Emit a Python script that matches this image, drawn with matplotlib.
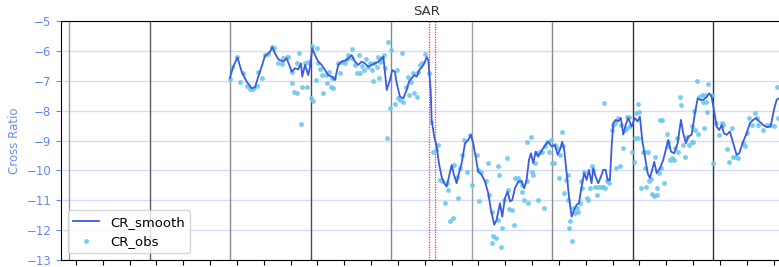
import matplotlib
matplotlib.use("Agg")
import matplotlib.pyplot as plt
import numpy as np

# x axis: months counted from the first x tick
smooth_month = [22.96, 23.40, 24.07, 24.70, 25.45, 26.19, 26.68, 27.18, 27.68, 28.17,
                28.92, 29.26, 29.66, 30.16, 30.90, 31.41, 31.90, 32.15, 32.65, 33.14,
                33.54, 33.73, 34.14, 34.63, 34.88, 35.23, 35.63, 36.12, 36.63, 37.12,
                37.61, 38.12, 38.61, 39.10, 39.61, 40.35, 41.10, 41.59, 42.08, 42.59,
                43.08, 43.57, 44.08, 44.57, 45.06, 45.57, 45.81, 46.06, 46.32, 46.81,
                47.15, 47.55, 47.81, 48.30, 48.79, 49.30, 49.64, 50.04, 50.43, 50.79,
                51.18, 51.62, 51.92, 52.28, 52.52, 52.88, 53.02, 53.41, 53.77, 54.11,
                54.51, 54.90, 55.26, 55.60, 56.01, 56.35, 56.75, 57.09, 57.50, 57.99,
                58.48, 58.88, 59.22, 59.58, 59.97, 60.48, 60.97, 61.46, 61.86, 62.36,
                62.71, 63.21, 63.55, 63.95, 64.35, 64.70, 65.04, 65.44, 65.93, 66.44,
                66.83, 67.18, 67.53, 67.83, 68.17, 68.53, 68.91, 69.32, 69.66, 70.17,
                70.41, 70.91, 71.40, 71.81, 72.15, 72.49, 72.79, 73.15, 73.49, 73.89,
                74.28, 74.64, 74.98, 75.38, 75.77, 76.13, 76.47, 76.87, 77.11, 77.47,
                77.86, 78.26, 78.61, 78.96, 79.26, 79.60, 79.86, 80.10, 80.45, 80.84,
                81.24, 81.59, 81.94, 82.33, 82.84, 83.33, 83.73, 84.07, 84.42, 84.82,
                85.22, 85.57, 85.91, 86.21, 86.57, 87.06, 87.55, 88.06, 88.30, 88.70,
                89.19, 89.70, 90.19, 90.54, 90.93, 91.28, 91.78, 92.28, 92.68, 93.02,
                93.51, 94.02, 94.40, 94.76, 95.11, 95.51, 95.90, 96.26, 96.60, 97.00,
                97.49, 97.98, 98.49, 98.88, 99.38, 99.98, 100.47, 100.96, 101.37, 101.86,
                102.46, 102.96, 103.56, 104.05, 104.45, 104.80, 105.30]
cr_smooth = [-6.90, -6.55, -6.22, -6.70, -7.03, -7.25, -7.22, -6.86, -6.53, -6.17,
             -6.03, -5.88, -6.08, -6.28, -6.36, -6.25, -6.53, -6.70, -6.58, -6.62,
             -6.42, -6.86, -6.47, -6.81, -6.53, -5.91, -6.14, -6.36, -6.47, -6.64,
             -6.81, -6.86, -6.97, -6.47, -6.36, -6.30, -6.14, -6.36, -6.47, -6.36,
             -6.42, -6.53, -6.47, -6.42, -6.36, -6.25, -6.19, -6.70, -7.31, -6.97,
             -6.64, -6.70, -7.08, -7.53, -7.59, -7.31, -7.03, -6.92, -6.81, -6.86,
             -6.64, -6.53, -6.42, -6.21, -6.30, -7.31, -8.31, -8.87, -9.20, -9.76,
             -10.21, -10.43, -10.54, -10.21, -9.82, -10.15, -10.43, -10.09, -9.76, -9.10,
             -8.98, -8.81, -9.09, -9.54, -10.04, -10.15, -10.37, -10.76, -11.32, -11.82,
             -11.65, -11.10, -11.55, -10.93, -10.71, -11.04, -10.99, -10.60, -10.37, -10.37,
             -10.60, -10.32, -9.65, -9.43, -9.76, -9.37, -9.54, -9.37, -9.26, -9.09,
             -9.04, -9.20, -9.15, -9.48, -9.31, -9.04, -9.31, -10.09, -10.87, -11.55,
             -11.32, -11.15, -11.10, -10.54, -10.09, -10.32, -9.98, -10.43, -9.93, -10.21,
             -10.43, -10.21, -9.98, -9.98, -10.32, -10.32, -9.20, -8.42, -8.31, -8.36,
             -8.25, -8.80, -8.48, -8.25, -8.53, -8.25, -8.36, -8.20, -8.98, -9.54,
             -10.09, -10.26, -9.98, -9.71, -10.09, -9.93, -9.65, -9.20, -8.98, -9.37,
             -9.43, -9.09, -8.31, -8.76, -9.09, -8.87, -8.81, -8.09, -7.59, -7.64,
             -7.64, -7.55, -7.42, -7.53, -7.98, -8.53, -8.65, -8.48, -8.76, -8.81,
             -8.70, -9.09, -9.48, -9.43, -9.09, -8.76, -8.42, -8.31, -8.25, -8.36,
             -8.48, -8.55, -8.53, -7.98, -7.64, -7.59, -7.50]

obs_month = [22.91, 23.30, 24.05, 24.45, 24.94, 25.45, 25.94, 26.43, 26.94, 27.18,
             27.68, 28.17, 28.67, 29.17, 29.56, 30.07, 30.75, 30.90, 31.41, 31.65,
             32.15, 32.24, 32.54, 32.90, 33.02, 33.24, 33.73, 33.54, 34.14, 34.39,
             34.54, 35.03, 35.37, 35.23, 35.88, 35.73, 36.12, 36.37, 36.72, 36.86,
             37.22, 37.37, 37.71, 38.01, 38.36, 38.16, 38.50, 39.10, 39.35, 39.61,
             40.10, 40.35, 40.59, 41.10, 41.19, 41.59, 41.84, 42.23, 42.34, 42.68,
             42.98, 43.19, 43.48, 43.83, 44.08, 44.32, 44.47, 44.83, 45.06, 45.32,
             45.17, 45.57, 45.91, 46.06, 46.32, 46.55, 46.96, 46.81, 47.55, 47.81,
             47.96, 48.30, 48.55, 48.79, 49.15, 49.45, 49.64, 49.94, 50.28, 50.43,
             50.79, 50.94, 51.28, 51.62, 52.03, 52.62, 52.92, 53.26, 53.62, 53.92,
             54.26, 54.60, 55.01, 55.26, 55.50, 55.75, 56.24, 56.35, 56.75, 56.90,
             57.24, 57.58, 57.88, 58.24, 58.73, 59.08, 59.73, 59.97, 60.37, 60.07,
             61.07, 61.37, 61.56, 61.97, 62.21, 62.56, 62.06, 62.95, 63.05, 62.86,
             63.35, 63.55, 63.85, 64.20, 64.35, 64.55, 64.95, 65.34, 65.44, 65.93,
             66.19, 66.53, 66.44, 66.83, 67.18, 67.42, 67.27, 67.78, 67.93, 68.17,
             68.42, 68.53, 68.82, 69.17, 69.42, 69.81, 69.90, 70.17, 70.51, 70.81,
             71.00, 71.30, 71.40, 71.66, 72.15, 72.40, 72.64, 71.99, 73.00, 73.30,
             72.79, 73.39, 73.64, 73.54, 73.89, 74.13, 74.39, 74.64, 74.88, 75.13,
             75.28, 75.47, 75.77, 76.13, 76.37, 76.62, 76.87, 77.11, 77.37, 77.62,
             77.86, 78.26, 78.61, 78.86, 79.11, 79.35, 79.45, 78.71, 79.86, 80.10,
             80.35, 80.50, 80.84, 81.09, 81.24, 81.59, 81.84, 82.09, 82.21, 82.43,
             82.58, 82.84, 83.22, 83.48, 83.82, 83.93, 83.33, 83.73, 84.57, 84.82,
             85.22, 84.89, 84.22, 84.92, 85.41, 85.71, 85.91, 86.21, 86.57, 86.31,
             86.68, 86.99, 87.06, 87.40, 87.21, 87.70, 88.06, 88.30, 88.21, 88.55,
             88.80, 89.19, 89.29, 89.55, 89.79, 90.04, 90.19, 90.54, 90.79, 91.04,
             91.38, 91.78, 92.02, 91.87, 92.17, 92.28, 92.53, 92.68, 92.87, 93.27,
             93.51, 93.66, 93.77, 93.92, 94.26, 94.11, 94.76, 95.00, 95.40, 95.90,
             96.26, 96.50, 97.00, 97.39, 97.75, 97.98, 98.38, 98.73, 99.38, 99.73,
             99.98, 100.37, 100.73, 101.22, 101.56, 101.71, 102.46, 102.96, 103.46, 104.05,
             104.45, 104.69]
cr_obs = [-6.94, -6.53, -6.21, -7.03, -6.75, -7.17, -7.28, -7.28, -7.17, -6.70,
          -6.92, -6.14, -6.10, -5.86, -5.91, -6.42, -6.44, -6.25, -6.19, -6.19,
          -6.70, -7.08, -7.36, -7.42, -6.42, -6.08, -7.20, -8.44, -6.42, -7.20,
          -6.36, -7.59, -7.67, -5.84, -5.91, -6.97, -6.42, -6.62, -6.81, -7.42,
          -6.81, -7.06, -6.70, -7.20, -7.25, -6.92, -6.92, -6.42, -6.73, -6.36,
          -6.42, -6.28, -6.14, -5.95, -6.25, -6.47, -6.75, -6.14, -6.73, -6.50,
          -6.64, -6.28, -6.53, -6.42, -6.64, -7.00, -6.42, -6.53, -6.19, -6.36,
          -6.90, -6.25, -6.14, -6.58, -8.92, -5.69, -5.97, -7.92, -7.78, -6.64,
          -7.59, -7.64, -6.06, -7.70, -7.20, -6.86, -7.47, -7.03, -6.75, -7.42,
          -7.53, -6.70, -6.47, -6.42, -6.10, -6.75, -8.37, -9.37, -9.31, -9.15,
          -10.32, -10.37, -11.10, -10.43, -10.65, -11.71, -11.60, -9.82, -10.21, -10.93,
          -9.93, -9.48, -8.98, -10.04, -8.81, -10.49, -9.48, -9.98, -10.04, -11.04,
          -10.37, -9.76, -10.82, -11.38, -12.21, -12.27, -12.44, -9.87, -10.15, -11.65,
          -12.55, -11.93, -10.99, -9.59, -10.65, -11.30, -11.32, -11.82, -10.26, -10.26,
          -10.37, -10.49, -10.71, -10.99, -10.37, -11.10, -9.04, -8.89, -10.04, -10.15,
          -9.76, -9.43, -10.99, -9.37, -9.37, -11.27, -9.20, -9.04, -9.37, -8.98,
          -9.76, -9.76, -9.15, -9.26, -9.48, -8.70, -9.20, -10.26, -10.32, -10.15,
          -10.76, -10.99, -11.71, -11.93, -12.38, -11.27, -11.43, -11.27, -11.38, -11.10,
          -10.37, -10.60, -10.04, -10.93, -10.99, -10.60, -9.87, -9.98, -10.54, -10.82,
          -10.54, -10.54, -10.54, -10.60, -10.37, -10.32, -10.43, -7.73, -8.65, -8.48,
          -8.42, -9.93, -8.25, -9.87, -8.48, -9.26, -8.65, -8.20, -8.59, -8.20,
          -8.53, -9.37, -9.71, -8.09, -7.78, -8.03, -8.92, -8.92, -9.37, -9.37,
          -9.40, -9.93, -10.60, -10.54, -10.37, -10.29, -10.79, -10.87, -10.82, -9.54,
          -10.60, -10.09, -8.31, -8.31, -9.93, -10.43, -8.78, -9.04, -9.18, -9.65,
          -9.59, -9.65, -9.26, -8.92, -9.37, -7.53, -7.81, -9.15, -9.54, -8.87,
          -9.15, -9.04, -9.04, -8.53, -8.00, -8.65, -7.00, -8.78, -7.53, -7.47,
          -7.70, -8.59, -7.47, -7.70, -7.11, -8.03, -7.47, -9.76, -8.42, -8.81,
          -8.42, -8.48, -9.29, -9.71, -8.59, -9.54, -9.54, -9.59, -9.07, -9.20,
          -8.74, -8.25, -8.48, -8.09, -8.25, -8.48, -8.65, -8.48, -8.48, -8.53,
          -7.22, -8.25]

season_lines = [-1, 11, 23, 35, 47, 59, 71, 83, 95]
season_colors = ['#9a9a9a', '#5a5a5a', '#8a8a8a', '#4a4a4a', '#8a8a8a',
                 '#a0a0a0', '#8a8a8a', '#333333', '#333333']
event_lines = [52.67, 53.47]
y_ticks = [-13, -12, -11, -10, -9, -8, -7, -6, -5]

fig = plt.figure(figsize=(7.79, 2.67), dpi=100)
ax = fig.add_axes([0.0783, 0.0262, 0.9397, 0.8951])

for m, c in zip(season_lines, season_colors):
    ax.axvline(m, color=c, lw=1.0, zorder=1)
for m in event_lines:
    ax.axvline(m, color='#ff3030', lw=0.9, ls=(0, (1, 1)), zorder=1)

ax.plot(smooth_month, cr_smooth, color='#3b5be0', lw=1.3, label='CR_smooth', zorder=4)
ax.plot(obs_month, cr_obs, ls='none', marker='o', ms=3.5, color='#6cc8ec',
        alpha=0.9, markeredgewidth=0, label='CR_obs', zorder=3)

ax.set_xlim(-2.236, 106.9)
ax.set_ylim(-13, -5)
ax.set_yticks(y_ticks)
ax.set_xticks(np.arange(0, 106, 4))
ax.tick_params(axis='x', labelbottom=False, length=3.5)
ax.tick_params(axis='y', colors='#6488f2', labelsize=8.5, length=3.5)
ax.grid(axis='y', color='#d3dcf8', lw=1.0)
ax.set_axisbelow(True)
ax.spines['right'].set_visible(False)

ax.set_ylabel('Cross Ratio', color='#6b8cf0', fontsize=8.5)
ax.set_title('SAR', fontsize=9.5, color='#333333', pad=4)
ax.legend(loc='lower left', fontsize=9.5, handlelength=2.0)

fig.savefig('out.png', dpi=100)
